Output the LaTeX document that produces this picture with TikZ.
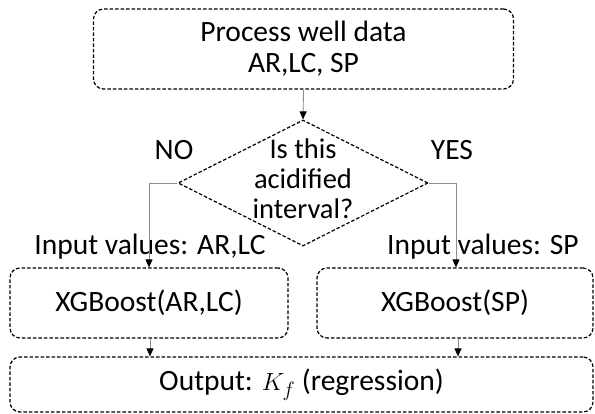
\documentclass[tikz,border=0pt]{standalone}
\usepackage{fontspec}
\setmainfont{Carlito}
\usetikzlibrary{shapes.geometric,arrows.meta}
\begin{document}
\begin{tikzpicture}[x=1pt,y=-1pt,
  every node/.style={font=\fontsize{29.5}{31}\selectfont, inner sep=0pt},
  box/.style={draw=black, line width=1.2pt, dash pattern=on 3.5pt off 2pt, rounded corners=10pt, align=center},
  decision/.style={draw=black, line width=1.2pt, dash pattern=on 3.5pt off 2pt, diamond, minimum width=250pt, minimum height=126pt},
  conn/.style={draw=black!45, line width=0.9pt, -{Triangle[width=7pt,length=8pt,fill=black,color=black]}},
  lbl/.style={}]
\useasboundingbox (0,0) rectangle (595,414);
\node[box, minimum width=420pt, minimum height=80pt] (top) at (303.5,49) {Process well data\\AR,LC, SP};
\node[decision] (d) at (303,183) {};
\node[align=center, font=\fontsize{28.5}{30}\selectfont] (dtext) at (303,179) {Is this\\acidified\\interval?};
\node[box, minimum width=278pt, minimum height=70pt] (left) at (149,303) {XGBoost(AR,LC)};
\node[box, minimum width=276pt, minimum height=70pt] (right) at (455,303) {XGBoost(SP)};
\node[box, minimum width=583pt, minimum height=55pt] (out) at (301.5,384.5) {Output: $K_f$ (regression)};
\node[lbl] (no) at (174,150) {NO};
\node[lbl] (yes) at (452,150) {YES};
\node[lbl] (inl) at (150,247) {Input values: AR,LC};
\node[lbl] (inr) at (483,247) {Input values: SP};
\draw[conn] (top.south) -- (d.north);
\draw[conn] (d.west) -| ([xshift=0pt]left.north);
\draw[conn] (d.east) -| ([xshift=1pt]right.north);
\draw[conn] ([xshift=1pt]left.south) -- ([xshift=1pt]left.south |- out.north);
\draw[conn] ([xshift=3pt]right.south) -- ([xshift=3pt]right.south |- out.north);
\end{tikzpicture}
\end{document}
